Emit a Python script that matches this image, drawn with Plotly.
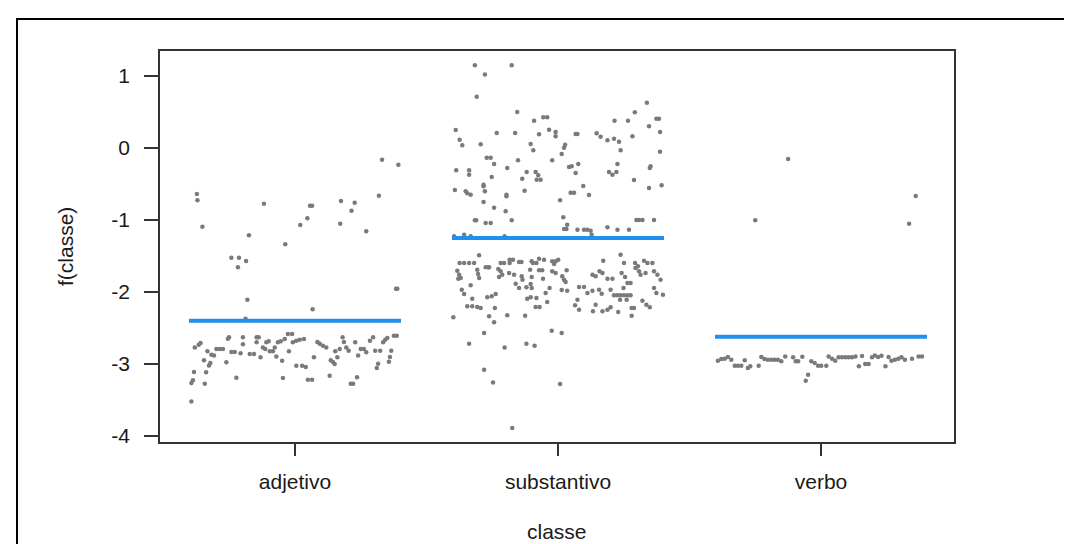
import plotly.graph_objects as go

categories = ["adjetivo", "substantivo", "verbo"]
group_means = [-2.40, -1.25, -2.62]
y_ticks = [1, 0, -1, -2, -3, -4]

# (horizontal jitter, f(classe)) for each observation
adjetivo_pts = [
    (-0.373, -0.639), (-0.371, -0.727), (-0.352, -1.093), (-0.118, -0.773), (-0.242, -1.523),
    (-0.213, -1.523), (-0.217, -1.657), (-0.186, -1.569), (-0.175, -1.213), (-0.181, -2.106),
    (-0.037, -1.338), (0.020, -1.069), (0.047, -0.977), (0.057, -0.801), (0.065, -0.801),
    (0.067, -2.241), (0.172, -1.051), (0.175, -0.736), (0.215, -0.870), (0.227, -0.759),
    (0.271, -1.157), (0.319, -0.662), (0.331, -0.162), (0.393, -0.231), (0.384, -1.954),
    (0.389, -1.954), (-0.188, -2.370),
    (-0.394, -3.264), (-0.388, -3.227), (-0.384, -3.111), (-0.381, -2.769), (-0.366, -2.731),
    (-0.359, -2.708), (-0.346, -2.949), (-0.343, -3.273), (-0.338, -3.116), (-0.333, -2.824),
    (-0.327, -3.019), (-0.322, -2.986), (-0.318, -2.870), (-0.308, -2.880), (-0.299, -2.792),
    (-0.286, -2.792), (-0.274, -2.792), (-0.261, -2.977), (-0.255, -2.648), (-0.251, -2.630),
    (-0.242, -2.833), (-0.229, -2.833), (-0.223, -3.190), (-0.207, -2.852), (-0.198, -2.630),
    (-0.198, -2.727), (-0.172, -2.861), (-0.156, -2.861), (-0.146, -2.630), (-0.138, -2.630),
    (-0.146, -2.699), (-0.131, -2.907), (-0.122, -2.769), (-0.113, -2.792), (-0.109, -2.699),
    (-0.100, -2.685), (-0.096, -2.824), (-0.084, -2.824), (-0.077, -2.769), (-0.071, -2.894),
    (-0.065, -2.699), (-0.054, -2.685), (-0.049, -2.954), (-0.046, -3.194), (-0.039, -2.653),
    (-0.027, -2.583), (-0.011, -2.583), (-0.023, -2.824), (-0.008, -2.699), (0.005, -2.676),
    (0.005, -3.023), (0.018, -2.662), (0.027, -3.023), (0.041, -3.042), (0.034, -2.653),
    (0.049, -3.218), (0.065, -3.218), (0.072, -2.907), (0.085, -2.694), (0.094, -2.718),
    (0.106, -2.745), (0.119, -2.769), (0.132, -3.162), (0.136, -2.949), (0.144, -2.972),
    (0.151, -3.000), (0.153, -2.824), (0.161, -2.907), (0.170, -2.792), (0.181, -2.630),
    (0.186, -2.694), (0.195, -2.769), (0.204, -2.815), (0.212, -3.273), (0.221, -3.273),
    (0.229, -2.699), (0.236, -3.185), (0.240, -2.880), (0.250, -2.792), (0.262, -2.792),
    (0.271, -2.838), (0.285, -2.676), (0.297, -2.630), (0.305, -2.815), (0.311, -3.056),
    (0.316, -2.995), (0.324, -2.815), (0.335, -2.699), (0.343, -2.662), (0.351, -2.639),
    (0.357, -2.968), (0.361, -2.903), (0.366, -2.815), (0.376, -2.606), (0.387, -2.606),
    (-0.394, -3.519),
]

substantivo_pts = [
    (-0.316, 1.148), (-0.176, 1.148), (-0.278, 1.019), (-0.309, 0.713), (-0.155, 0.500),
    (-0.389, 0.250), (-0.374, 0.116), (-0.364, 0.037), (-0.294, 0.051), (-0.233, 0.208),
    (-0.163, 0.208), (-0.091, 0.380), (-0.056, 0.426), (-0.041, 0.426), (-0.034, 0.255),
    (-0.072, 0.190), (-0.009, 0.222), (-0.009, 0.162), (-0.104, 0.056), (-0.094, -0.032),
    (0.027, 0.046), (0.023, 0.005), (0.067, 0.194), (0.074, 0.194), (0.147, 0.204),
    (0.162, 0.157), (0.188, 0.107), (0.213, 0.130), (0.232, 0.088), (0.215, 0.380),
    (0.238, -0.032), (0.266, 0.380), (0.292, 0.495), (0.283, 0.162), (0.338, 0.630),
    (0.346, 0.301), (0.374, 0.407), (0.384, 0.407), (0.388, 0.222), (0.388, -0.051),
    (-0.271, -0.134), (-0.256, -0.134), (-0.243, -0.222), (-0.387, -0.310), (-0.338, -0.310),
    (-0.338, -0.370), (-0.252, -0.403), (-0.193, -0.278), (-0.152, -0.171), (-0.119, -0.333),
    (-0.085, -0.333), (-0.075, -0.380), (-0.081, -0.440), (-0.066, -0.440), (-0.136, -0.426),
    (-0.022, -0.171), (0.014, -0.083), (0.042, -0.264), (0.052, -0.255), (0.077, -0.222),
    (0.067, -0.347), (-0.392, -0.583), (-0.351, -0.602), (-0.345, -0.630), (-0.332, -0.648),
    (-0.283, -0.509), (-0.283, -0.532), (-0.278, -0.602), (-0.283, -0.750), (-0.243, -0.829),
    (-0.199, -0.880), (-0.196, -0.671), (-0.196, -0.648), (-0.127, -0.593), (-0.176, -1.005),
    (-0.316, -1.005), (-0.311, -1.005), (-0.275, -1.042), (-0.256, -1.042), (0.008, -0.727),
    (0.020, -0.963), (0.048, -0.620), (0.061, -0.620), (0.096, -0.528), (0.118, -0.653),
    (0.035, -1.065), (0.023, -1.125), (0.032, -1.125), (0.074, -1.134), (0.099, -1.134),
    (0.112, -1.134), (0.124, -1.148), (0.188, -1.102), (0.226, -1.134), (0.270, -1.134),
    (0.194, -0.333), (0.207, -0.370), (0.222, -0.333), (0.226, -0.222), (0.289, -0.444),
    (0.349, -0.278), (0.352, -0.255), (0.346, -0.555), (0.394, -0.518), (0.298, -1.000),
    (0.308, -1.000), (0.321, -1.000), (0.365, -1.000), (-0.395, -1.227), (-0.357, -1.204),
    (-0.332, -1.227), (-0.203, -1.227), (0.128, -1.204),
    (-0.374, -1.597), (-0.357, -1.597), (-0.338, -1.597), (-0.319, -1.597), (-0.300, -1.491),
    (-0.265, -1.657), (-0.218, -1.597), (-0.205, -1.597), (-0.184, -1.551), (-0.171, -1.551),
    (-0.184, -1.597), (-0.148, -1.583), (-0.139, -1.583), (-0.100, -1.574), (-0.095, -1.597),
    (-0.082, -1.597), (-0.072, -1.537), (-0.053, -1.551), (-0.022, -1.574), (-0.009, -1.574),
    (0.001, -1.551), (-0.015, -1.611), (0.172, -1.565), (0.238, -1.481), (0.251, -1.597),
    (0.293, -1.597), (0.304, -1.643), (0.327, -1.565), (0.340, -1.597), (0.359, -1.597),
    (-0.383, -1.704), (-0.376, -1.759), (-0.370, -1.806), (-0.379, -1.815), (-0.307, -1.690),
    (-0.304, -1.750), (-0.300, -1.806), (-0.275, -1.657), (-0.262, -1.657), (-0.227, -1.681),
    (-0.218, -1.713), (-0.212, -1.759), (-0.224, -1.792), (-0.186, -1.736), (-0.167, -1.759),
    (-0.138, -1.782), (-0.135, -1.829), (-0.106, -1.690), (-0.100, -1.792), (-0.072, -1.699),
    (-0.060, -1.699), (-0.057, -1.815), (-0.022, -1.713), (-0.009, -1.736), (0.016, -1.782),
    (0.023, -1.829), (0.029, -1.861), (0.033, -1.699), (0.131, -1.759), (0.143, -1.782),
    (0.158, -1.713), (0.169, -1.736), (0.188, -1.815), (0.207, -1.815), (0.242, -1.736),
    (0.255, -1.792), (0.295, -1.667), (0.308, -1.713), (0.314, -1.759), (0.333, -1.736),
    (0.365, -1.713), (0.378, -1.759), (0.390, -1.829),
    (-0.332, -1.907), (-0.366, -1.968), (-0.357, -2.028), (-0.161, -1.884), (-0.148, -1.944),
    (-0.120, -1.935), (-0.104, -1.889), (-0.100, -1.944), (-0.047, -2.014), (-0.032, -1.944),
    (0.014, -1.972), (0.035, -1.981), (0.080, -1.931), (0.099, -1.931), (0.074, -2.106),
    (0.112, -2.014), (0.131, -1.981), (0.156, -1.968), (0.166, -2.023), (0.200, -1.968),
    (0.213, -2.046), (0.225, -2.046), (0.238, -2.046), (0.251, -2.046), (0.264, -2.046),
    (0.276, -2.046), (0.249, -1.944), (0.264, -1.875), (0.276, -1.875), (0.236, -2.106),
    (0.261, -2.106), (0.365, -1.944), (0.374, -2.014), (0.399, -2.037), (0.321, -2.120),
    (-0.326, -2.093), (-0.345, -2.199), (-0.326, -2.199), (-0.307, -2.208), (-0.294, -2.222),
    (-0.269, -2.074), (-0.252, -2.060), (-0.237, -2.028), (-0.240, -2.222), (-0.262, -2.338),
    (-0.243, -2.421), (-0.193, -2.324), (-0.125, -2.329), (-0.117, -2.093), (-0.104, -2.074),
    (-0.082, -2.083), (-0.085, -2.208), (-0.070, -2.208), (-0.041, -2.139), (0.065, -2.185),
    (0.080, -2.245), (0.133, -2.268), (0.143, -2.176), (0.169, -2.268), (0.188, -2.245),
    (0.200, -2.213), (0.229, -2.278), (0.280, -2.222), (0.289, -2.222), (0.280, -2.329),
    (0.336, -2.176), (0.349, -2.213), (-0.398, -2.352),
    (-0.281, -2.569), (-0.338, -2.718), (-0.203, -2.769), (-0.120, -2.718), (-0.089, -2.745),
    (-0.024, -2.537), (0.014, -2.569), (-0.281, -3.079), (-0.247, -3.255), (0.008, -3.278),
    (-0.174, -3.889),
]

verbo_pts = [
    (-0.125, -0.153), (-0.250, -1.004), (0.335, -1.051), (0.360, -0.667),
    (-0.392, -2.954), (-0.379, -2.931), (-0.366, -2.926), (-0.354, -2.903), (-0.341, -2.940),
    (-0.328, -3.023), (-0.316, -3.023), (-0.303, -3.023), (-0.290, -2.949), (-0.278, -3.056),
    (-0.269, -3.032), (-0.237, -3.023), (-0.227, -2.903), (-0.215, -2.931), (-0.202, -2.940),
    (-0.189, -2.940), (-0.176, -2.940), (-0.164, -2.940), (-0.151, -2.963), (-0.136, -2.894),
    (-0.106, -2.907), (-0.096, -2.963), (-0.087, -2.963), (-0.071, -2.898), (-0.058, -3.231),
    (-0.049, -3.148), (-0.037, -2.963), (-0.024, -2.986), (-0.011, -3.023), (0.001, -3.023),
    (0.020, -3.023), (0.029, -2.894), (0.042, -2.926), (0.054, -2.954), (0.067, -2.907),
    (0.080, -2.907), (0.093, -2.907), (0.105, -2.907), (0.118, -2.907), (0.131, -2.894),
    (0.144, -3.032), (0.156, -2.889), (0.168, -3.000), (0.181, -3.000), (0.194, -2.907),
    (0.205, -2.880), (0.217, -2.903), (0.230, -2.884), (0.245, -3.032), (0.257, -2.903),
    (0.268, -2.954), (0.281, -2.940), (0.294, -2.926), (0.306, -2.907), (0.319, -2.940),
    (0.346, -2.926), (0.371, -2.894), (0.384, -2.894),
]

groups = [adjetivo_pts, substantivo_pts, verbo_pts]

FONT = "Liberation Sans, Arial, sans-serif"
fig = go.Figure()

for i, pts in enumerate(groups):
    pos = i + 1
    fig.add_trace(go.Scatter(
        x=[pos + j for j, _ in pts], y=[v for _, v in pts],
        mode="markers", marker=dict(color="#7a7a7a", size=4.5, line=dict(width=0)),
        showlegend=False, hoverinfo="skip"))

for i, m in enumerate(group_means):
    pos = i + 1
    fig.add_trace(go.Scatter(
        x=[pos - 0.403, pos + 0.403], y=[m, m], mode="lines",
        line=dict(color="#1f8ff0", width=4), showlegend=False, hoverinfo="skip"))

fig.update_layout(
    width=1072, height=544,
    margin=dict(l=152, r=126, t=43, b=110),
    paper_bgcolor="white", plot_bgcolor="white",
    font=dict(family=FONT, size=21, color="#1a1a1a"),
    xaxis=dict(range=[0.4867, 3.5057], tickvals=[1, 2, 3], ticktext=categories,
               showgrid=False, zeroline=False, showline=True, mirror=True,
               linecolor="#333333", linewidth=1.5, ticks="outside", ticklen=12,
               tickcolor="#333333", tickwidth=1.5, ticklabelstandoff=8),
    yaxis=dict(range=[-4.083, 1.347], tickvals=y_ticks, ticktext=[str(t) for t in y_ticks],
               showgrid=False, zeroline=False, showline=True, mirror=True,
               linecolor="#333333", linewidth=1.5, ticks="outside", ticklen=14,
               tickcolor="#333333", tickwidth=1.5, ticklabelstandoff=10),
    annotations=[
        dict(text="classe", xref="paper", yref="paper", x=0.4994, y=(434 - 523) / 391,
             showarrow=False, xanchor="center", yanchor="middle", font=dict(size=21)),
        dict(text="f(classe)", xref="paper", yref="paper", x=(57 - 152) / 794, y=(434 - 239) / 391,
             showarrow=False, xanchor="center", yanchor="middle", textangle=-90, font=dict(size=21)),
    ],
    shapes=[
        dict(type="rect", xref="paper", yref="paper",
             x0=(9 - 152) / 794, x1=(1070 - 152) / 794, y0=(434 - 560) / 391, y1=1 + (43 - 11) / 391,
             line=dict(color="black", width=2), fillcolor="rgba(0,0,0,0)", layer="below"),
    ],
)

fig.write_html("out.html")
